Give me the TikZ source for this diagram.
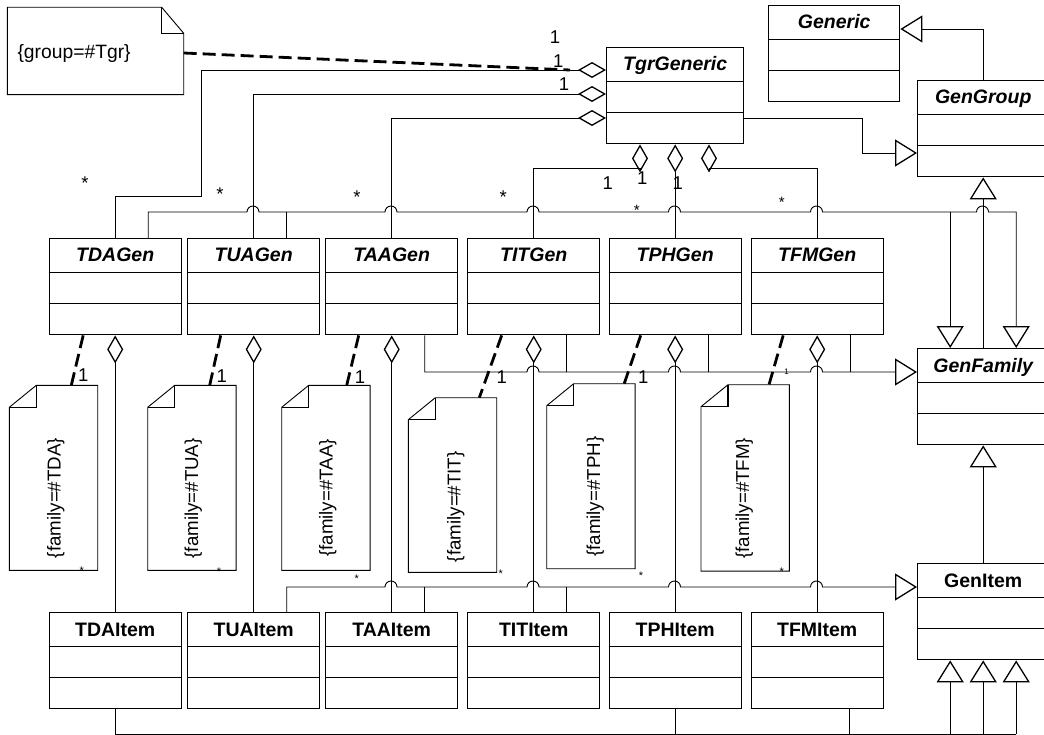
\documentclass[tikz,border=0pt]{standalone}
\usepackage{fontspec}
\setmainfont{Liberation Sans}
\usetikzlibrary{arrows.meta,calc}
\newcommand\umlcls[6]{%
  \node[clsbox, minimum width=#4pt, minimum height=96pt] (#1) at (#2,#3) {};
  \node[#5, anchor=base] (#1-t) at ([yshift=-24pt]#1.north) {#6};
  \draw[clsline] ([yshift=-34.5pt]#1.north west) -- ([yshift=-34.5pt]#1.north east);
  \draw[clsline] ([yshift=-65.5pt]#1.north west) -- ([yshift=-65.5pt]#1.north east);
}
\newcommand\vnote[7]{%
  \node[notenode, minimum width=88pt, minimum height=#4pt] (#1) at (#2,#3) {};
  \draw[notebox] ([yshift=-22pt]#1.north west) -- ([xshift=27pt]#1.north west) -- (#1.north east) -- (#1.south east) -- (#1.south west) -- cycle;
  \draw[notefold] ([yshift=-22pt]#1.north west) -- ([shift={(27pt,-22pt)}]#1.north west) -- ([xshift=27pt]#1.north west);
  \node[notetext, rotate=90, anchor=base] (#1-t) at (#6,#7) {#5};
}
\newcommand\hop[2]{-- (#1-6,#2) arc[start angle=180,end angle=0,radius=6pt]}
\begin{document}
\begin{tikzpicture}[x=1pt,y=-1pt,
  clsbox/.style={draw, line width=1.4pt, inner sep=0pt, anchor=north west},
  clsline/.style={line width=1.4pt},
  absname/.style={font=\fontsize{19.5}{20}\selectfont\bfseries\itshape, inner sep=0pt},
  conname/.style={font=\fontsize{19.5}{20}\selectfont\bfseries, inner sep=0pt},
  conn/.style={line width=0.9pt},
  gen/.style={conn, -{Triangle[open, length=22pt, width=27pt, line width=1.3pt]}},
  agg/.style={conn, {Diamond[open, length=28pt, width=16pt, line width=1.3pt]}-},
  dashlink/.style={line width=2.8pt, dash pattern=on 13pt off 6pt},
  notenode/.style={inner sep=0pt, anchor=north west},
  notebox/.style={line width=0.9pt},
  notefold/.style={line width=1.4pt},
  notetext/.style={font=\fontsize{18.7}{19}\selectfont, inner sep=0pt},
  gnotetext/.style={font=\fontsize{19.3}{20}\selectfont, inner sep=0pt},
  mult/.style={font=\fontsize{18.5}{19}\selectfont, inner sep=0pt, anchor=base},
  midmult/.style={font=\fontsize{15}{16}\selectfont, inner sep=0pt, anchor=base},
  smallmult/.style={font=\fontsize{11}{12}\selectfont, inner sep=0pt, anchor=base},
  tinymult/.style={font=\fontsize{8}{9}\selectfont, inner sep=0pt, anchor=base},
]
\fill[white] (0,0) rectangle (1044,735);
\useasboundingbox (0,0) rectangle (1044,735);
\clip (0,0) rectangle (1044,735);

% classes
\umlcls{TgrGeneric}{606}{47}{137}{absname}{TgrGeneric}
\umlcls{Generic}{768}{5}{131}{absname}{Generic}
\umlcls{GenGroup}{917}{80}{131}{absname}{GenGroup}
\umlcls{GenFamily}{917}{348}{131}{absname}{GenFamily}
\umlcls{GenItem}{917}{563}{131}{conname}{GenItem}

\umlcls{TDAGen}{48.5}{238}{132}{absname}{TDAGen}
\umlcls{TUAGen}{187}{238}{132}{absname}{TUAGen}
\umlcls{TAAGen}{325}{238}{132}{absname}{TAAGen}
\umlcls{TITGen}{467}{238}{132}{absname}{TITGen}
\umlcls{TPHGen}{608.5}{238}{132}{absname}{TPHGen}
\umlcls{TFMGen}{750.5}{238}{132}{absname}{TFMGen}

\umlcls{TDAItem}{48.5}{612}{132}{conname}{TDAItem}
\umlcls{TUAItem}{187}{612}{132}{conname}{TUAItem}
\umlcls{TAAItem}{325}{612}{132}{conname}{TAAItem}
\umlcls{TITItem}{467}{612}{132}{conname}{TITItem}
\umlcls{TPHItem}{608.5}{612}{132}{conname}{TPHItem}
\umlcls{TFMItem}{750.5}{612}{132}{conname}{TFMItem}

% notes
\node[notenode, minimum width=176pt, minimum height=87pt] (gnote) at (7.3,7.3) {};
\draw[notebox] (gnote.north west) -- ([xshift=-22pt]gnote.north east) -- ([yshift=-26pt]gnote.north east) -- (gnote.south east) -- (gnote.south west) -- cycle;
\draw[notebox] ([xshift=-22pt]gnote.north east) -- ([shift={(-22pt,-26pt)}]gnote.north east) -- ([yshift=-26pt]gnote.north east);
\node[gnotetext, anchor=base west] (gnote-t) at (17.3,58.3) {\{group=\#Tgr\}};

\vnote{nTDA}{9.3}{385.3}{184.7}{\{family=\#TDA\}}{60.5}{498}
\vnote{nTUA}{147.7}{385.3}{184.7}{\{family=\#TUA\}}{198}{498.3}
\vnote{nTAA}{281.7}{385.3}{184.7}{\{family=\#TAA\}}{332.5}{498}
\vnote{nTIT}{408.3}{397.7}{174.3}{\{family=\#TIT\}}{460.5}{506.7}
\vnote{nTPH}{546.7}{383.7}{184.6}{\{family=\#TPH\}}{600}{496.7}
\vnote{nTFM}{701}{384.7}{186}{\{family=\#TFM\}}{749}{498.3}

% TgrGeneric aggregations
\draw[agg] (TgrGeneric.west |- 0,70) -- (201,70) -- (201,196) -- (TDAGen.north |- 0,196) -- (TDAGen.north);
\draw[agg] (TgrGeneric.west |- 0,94) -- (TUAGen.north |- 0,94) -- (TUAGen.north);
\draw[agg] (TgrGeneric.west |- 0,118) -- (TAAGen.north |- 0,118) -- (TAAGen.north);
\draw[agg] (TgrGeneric.south -| 640,0) -- (640,168) -- (TITGen.north |- 0,168) -- (TITGen.north);
\draw[agg] (TgrGeneric.south) -- (TPHGen.north);
\draw[agg] (TgrGeneric.south -| 709,0) -- (709,168) -- (TFMGen.north |- 0,168) -- (TFMGen.north);

% generalizations of the upper classes
\draw[gen] (TgrGeneric.east |- 0,118) -- (862,118) -- (862,153) -- (GenGroup.west |- 0,153);
\draw[gen] (GenGroup.north) -- (GenGroup.north |- 0,29) -- (Generic.east |- 0,29);
\draw[gen] (GenFamily.north) -- (GenGroup.south);
\draw[gen] (GenItem.north) -- (GenFamily.south);

% line at y=212
\coordinate (tdaGa) at ([xshift=33pt]TDAGen.north);
\coordinate (tuaGa) at ([xshift=33pt]TUAGen.north);
\coordinate (famL) at ([xshift=-33pt]GenFamily.north);
\coordinate (famR) at ([xshift=33pt]GenFamily.north);
\draw[conn] (tdaGa) -- (tdaGa |- 0,212) \hop{253}{212} \hop{391}{212} \hop{533}{212} \hop{674.5}{212} \hop{816.5}{212} -- (famL |- 0,212);
\draw[conn] (tuaGa) -- (tuaGa |- 0,212);
\draw[gen] (famL |- 0,212) -- (famL);
\draw[gen] (famL |- 0,212) \hop{982.5}{212} -- (famR |- 0,212) -- (famR);

% line at y=372
\coordinate (taaGb) at ([xshift=33pt]TAAGen.south);
\coordinate (titGb) at ([xshift=33pt]TITGen.south);
\coordinate (tphGb) at ([xshift=33pt]TPHGen.south);
\coordinate (tfmGb) at ([xshift=33pt]TFMGen.south);
\draw[gen] (taaGb) -- (taaGb |- 0,372) \hop{533}{372} \hop{674.5}{372} \hop{816.5}{372} -- (GenFamily.west |- 0,372);
\draw[conn] (titGb) -- (titGb |- 0,372);
\draw[conn] (tphGb) -- (tphGb |- 0,372);
\draw[conn] (tfmGb) -- (tfmGb |- 0,372);

% line at y=587
\coordinate (tuaIa) at ([xshift=33pt]TUAItem.north);
\coordinate (taaIa) at ([xshift=33pt]TAAItem.north);
\coordinate (titIa) at ([xshift=33pt]TITItem.north);
\draw[gen] (tuaIa) -- (tuaIa |- 0,587) \hop{391}{587} \hop{533}{587} \hop{674.5}{587} \hop{816.5}{587} -- (GenItem.west |- 0,587);
\draw[conn] (taaIa) -- (taaIa |- 0,587);
\draw[conn] (titIa) -- (titIa |- 0,587);

% bottom line
\coordinate (tfmIb) at ([xshift=32pt]TFMItem.south);
\coordinate (itmL) at ([xshift=-33pt]GenItem.south);
\coordinate (itmR) at ([xshift=33pt]GenItem.south);
\draw[conn] (TDAItem.south) -- (TDAItem.south |- 0,734) -- (itmR |- 0,734);
\draw[conn] (TPHItem.south) -- (TPHItem.south |- 0,734);
\draw[conn] (tfmIb) -- (tfmIb |- 0,734);
\draw[gen] (itmL |- 0,734) -- (itmL);
\draw[gen] (GenItem.south |- 0,734) -- (GenItem.south);
\draw[gen] (itmR |- 0,734) -- (itmR);

% Gen -> Item aggregations
\draw[agg] (TDAGen.south) -- (TDAItem.north);
\draw[agg] (TUAGen.south) -- (TUAItem.north);
\draw[agg] (TAAGen.south) -- (TAAItem.north);
\draw[agg] (TITGen.south) -- (TITItem.north);
\draw[agg] (TPHGen.south) -- (TPHItem.north);
\draw[agg] (TFMGen.south) -- (TFMItem.north);

% dashed note links
\coordinate (tgrDash) at (570,70);
\draw[dashlink] (gnote.east |- 0,53) -- (tgrDash);
\draw[dashlink] ([xshift=-32pt]TDAGen.south) -- ([xshift=62pt]nTDA.north west);
\draw[dashlink] ([xshift=-33pt]TUAGen.south) -- ([xshift=62pt]nTUA.north west);
\draw[dashlink] ([xshift=-33pt]TAAGen.south) -- ([xshift=65pt]nTAA.north west);
\draw[dashlink] ([xshift=-32pt]TITGen.south) -- ([xshift=71pt]nTIT.north west);
\draw[dashlink] ([xshift=-34.5pt]TPHGen.south) -- ([xshift=77.5pt]nTPH.north west);
\draw[dashlink] ([xshift=-34pt]TFMGen.south) -- ([xshift=68pt]nTFM.north west);

% multiplicities
\node[mult] (m1) at (555,44) {1};
\node[mult] (m2) at (558.3,67.6) {1};
\node[mult] (m3) at (564,91) {1};
\node[mult] (m4) at (607.7,189.3) {1};
\node[mult] (m5) at (642.3,185) {1};
\node[mult] (m6) at (677.7,189.3) {1};
\node[mult] (m7) at (85,190) {*};
\node[mult] (m8) at (220,200.7) {*};
\node[mult] (m9) at (357,203.4) {*};
\node[mult] (m10) at (503.3,204) {*};
\node[midmult] (m11) at (636.7,216) {*};
\node[midmult] (m12) at (781.7,208) {*};

\node[mult] (n1) at (83.3,381.6) {1};
\node[mult] (n2) at (221.7,382.6) {1};
\node[mult] (n3) at (360,383.3) {1};
\node[mult] (n4) at (501.7,383.3) {1};
\node[mult] (n5) at (643.3,383.3) {1};
\node[tinymult] (n6) at (786.7,374.5) {1};
\node[smallmult] (s1) at (81.7,574.7) {*};
\node[smallmult] (s2) at (219,575.4) {*};
\node[smallmult] (s3) at (356.7,582) {*};
\node[smallmult] (s4) at (500.7,577) {*};
\node[smallmult] (s5) at (641,579.7) {*};
\node[smallmult] (s6) at (781.7,575.4) {*};
\end{tikzpicture}
\end{document}
